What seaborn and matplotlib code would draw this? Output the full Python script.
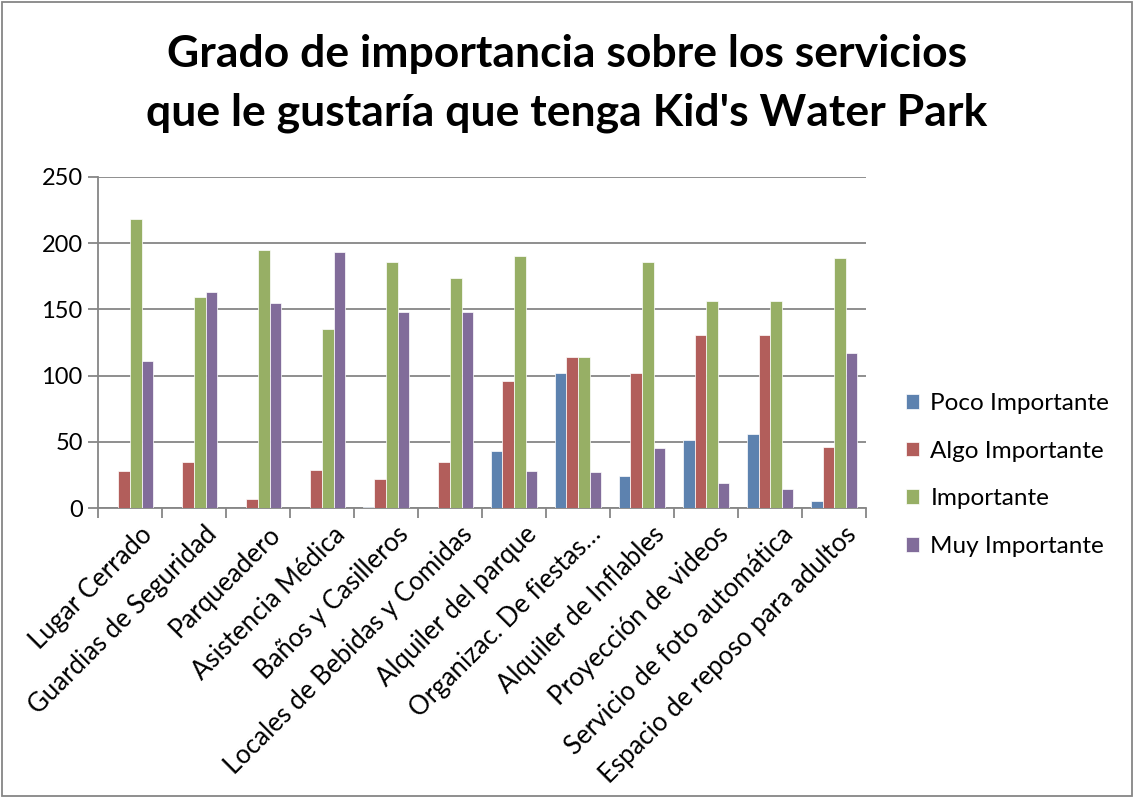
import numpy as np
import pandas as pd
import matplotlib
matplotlib.use("Agg")
import matplotlib.pyplot as plt
import matplotlib.transforms as mtransforms
import seaborn as sns
from matplotlib.patches import Rectangle

categories = ["Lugar Cerrado", "Guardias de Seguridad", "Parqueadero", "Asistencia Médica",
              "Baños y Casilleros", "Locales de Bebidas y Comidas", "Alquiler del parque",
              "Organizac. De fiestas…", "Alquiler de Inflables", "Proyección de videos",
              "Servicio de foto automática", "Espacio de reposo para adultos"]
series = ["Poco Importante", "Algo Importante", "Importante", "Muy Importante"]
poco = [0, 0, 0, 0, 1, 0, 43, 102, 24, 51, 56, 5]
algo = [28, 35, 7, 29, 22, 35, 96, 114, 102, 131, 131, 46]
importante = [218, 159, 195, 135, 186, 174, 190, 114, 186, 156, 156, 189]
muy = [111, 163, 155, 193, 148, 148, 28, 27, 45, 19, 14, 117]
colors = ["#4F81BD", "#C0504D", "#9BBB59", "#8064A2"]

rows = []
for s, vals in zip(series, [poco, algo, importante, muy]):
    for c, v in zip(categories, vals):
        rows.append({"Servicio": c, "Serie": s, "Valor": v})
df = pd.DataFrame(rows)

sns.set_style("white")
plt.rcParams["font.family"] = ["Lato", "DejaVu Sans"]
plt.rcParams["text.color"] = "black"
plt.rcParams["xtick.color"] = "black"
plt.rcParams["ytick.color"] = "black"

fig = plt.figure(figsize=(11.34, 7.98), dpi=100)
ax = fig.add_axes([0.0864, 0.3634, 0.6773, 0.4148])

sns.barplot(data=df, x="Servicio", y="Valor", hue="Serie", palette=colors,
            width=0.72, edgecolor="white", linewidth=0.5, ax=ax, zorder=3)

ax.set_ylim(0, 250)
ax.set_xlim(-0.5, len(categories) - 0.5)
ax.set_yticks(range(0, 251, 50))
ax.yaxis.grid(True, color="#868686", linewidth=1.3, zorder=0)
ax.set_axisbelow(True)
ax.set_xlabel("")
ax.set_ylabel("")
for side in ["top", "right"]:
    ax.spines[side].set_visible(False)
for side in ["left", "bottom"]:
    ax.spines[side].set_color("#868686")
    ax.spines[side].set_linewidth(1.3)

ax.tick_params(axis="y", labelsize=17, length=7, width=1.3, color="#868686",
               labelcolor="black", direction="out", left=True, pad=4)
ax.set_xticks(range(len(categories)))
ax.set_xticklabels(categories, rotation=45, ha="right", rotation_mode="anchor", fontsize=18.5)
ax.tick_params(axis="x", which="major", length=0, pad=10, labelcolor="black")
ax.set_xticks(np.arange(-0.5, len(categories), 1.0), minor=True)
ax.tick_params(axis="x", which="minor", length=7, width=1.3, color="#868686", direction="out", bottom=True)
offset = mtransforms.ScaledTranslation(10 / 100, 0, fig.dpi_scale_trans)
for lbl in ax.get_xticklabels():
    lbl.set_transform(lbl.get_transform() + offset)

ax.legend(loc="center left", bbox_to_anchor=(1.052, 0.10), frameon=False, fontsize=17.5,
          handlelength=0.55, handleheight=0.55, labelspacing=1.1, handletextpad=0.45,
          borderaxespad=0, borderpad=0)

fig.suptitle("Grado de importancia sobre los servicios\nque le gustaría que tenga Kid's Water Park",
             x=0.5, y=0.957, fontsize=32, fontweight="bold", linespacing=1.55, color="black")

fig.patches.append(Rectangle((0.002, 0.002), 0.996, 0.996, transform=fig.transFigure,
                             fill=False, edgecolor="#868686", linewidth=1.3))

fig.savefig("out.png", dpi=100)
